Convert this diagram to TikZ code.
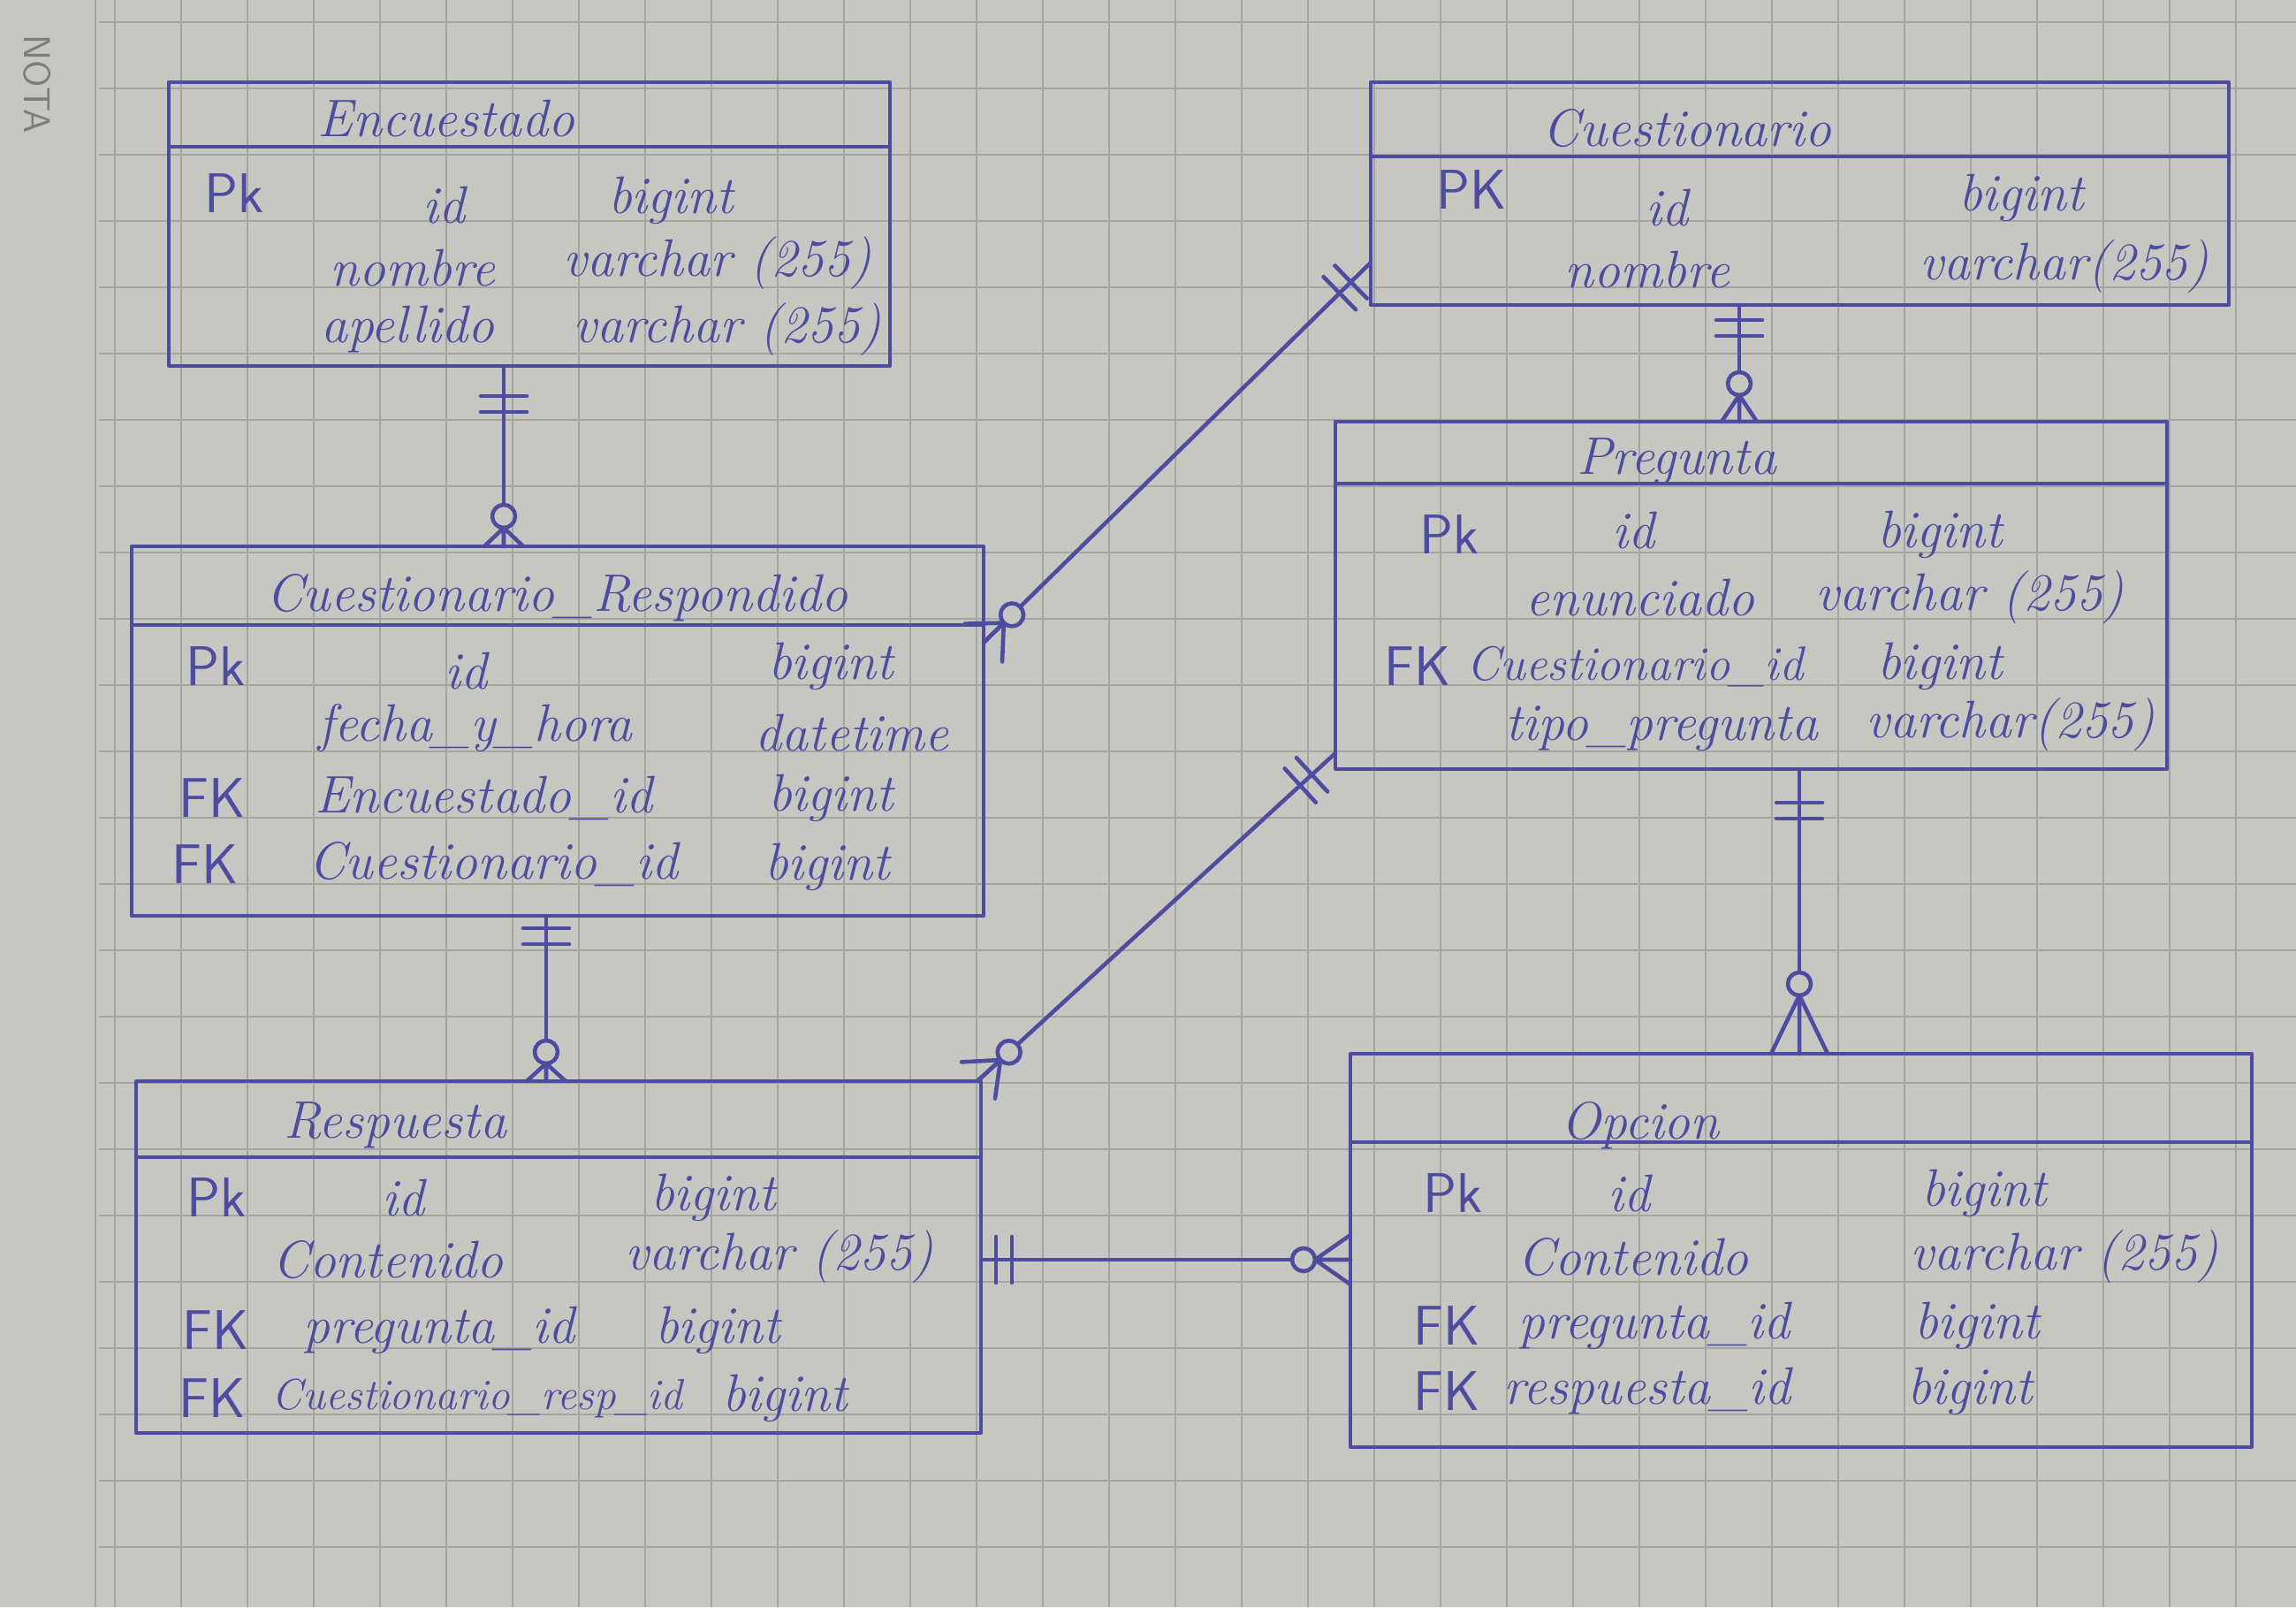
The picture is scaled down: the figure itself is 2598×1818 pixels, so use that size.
\documentclass[tikz,border=0pt]{standalone}
\usepackage{fontspec}
\usetikzlibrary{calc,fit}
\definecolor{paper}{RGB}{199,199,194}
\definecolor{gridc}{RGB}{165,165,160}
\definecolor{inkc}{RGB}{78,76,160}
\definecolor{notac}{RGB}{125,125,121}
\tikzset{
  ink/.style={draw=inkc, line width=1.3pt, line cap=round, line join=round},
  tbl/.style={ink, inner sep=0pt},
  txt/.style={text=inkc, font=\fontsize{17}{20}\selectfont\itshape, inner sep=1pt},
  smalltxt/.style={txt, font=\fontsize{14}{16}\selectfont\itshape},
  midtxt/.style={txt, font=\fontsize{15.5}{18}\selectfont\itshape},
  ttl/.style={txt},
  keyt/.style={text=inkc, font=\fontsize{18}{20}\selectfont\sffamily, inner sep=1pt},
}
\newcommand\tablebox[6]{%
  \node[tbl, draw, fit={(#2,#3) (#4,#5)}] (#1) {};
  \draw[ink] (#2,#6) -- (#4,#6);}
\newcommand\onemark[3]{%
  \draw[ink] ($(#1)+(#2:#3)+(#2+90:26)$) -- ($(#1)+(#2:#3)+(#2-90:26)$);
  \draw[ink] ($(#1)+(#2:#3+18)+(#2+90:26)$) -- ($(#1)+(#2:#3+18)+(#2-90:26)$);}
\newcommand\manymark[4]{%
  \draw[ink] ($(#1)+(#2:#3)$) -- ($(#1)+(#2+90:#4)$)
    ($(#1)+(#2:#3)$) -- (#1)
    ($(#1)+(#2:#3)$) -- ($(#1)+(#2-90:#4)$);
  \draw[ink, fill=paper] ($(#1)+(#2:#3+13)$) circle[radius=13];}
\begin{document}
\begin{tikzpicture}[x=0.01cm, y=-0.01cm]
\useasboundingbox (0,0) rectangle (2598,1818);
\fill[paper] (0,0) rectangle (2598,1818);
% grid paper
\foreach \gx in {130,205,...,2598} \draw[gridc, line width=0.6pt] (\gx,0) -- (\gx,1818);
\foreach \gy in {25,100,...,1818} \draw[gridc, line width=0.6pt] (112,\gy) -- (2598,\gy);
\draw[gridc, line width=0.7pt] (108,0) -- (108,1818);
\node[rotate=-90, text=notac, font=\sffamily\fontsize{12}{12}\selectfont] (nota) at (42,95) {NOTA};

% ---------- tables ----------
\tablebox{enc}{191}{93}{1007}{414}{166}
\tablebox{cue}{1551}{93}{2522}{345}{177}
\tablebox{cr}{149}{618}{1113}{1036}{707}
\tablebox{pre}{1511}{477}{2452}{870}{547}
\tablebox{res}{154}{1223}{1110}{1621}{1309}
\tablebox{opc}{1528}{1192}{2548}{1637}{1292}

% Encuestado
\node[ttl] (enc-t) at (505,134) {Encuestado};
\node[keyt] (enc-k1) at (265,219) {Pk};
\node[txt] (enc-n1) at (502,232) {id};
\node[txt] (enc-d1) at (759,227) {bigint};
\node[txt] (enc-n2) at (467,303) {nombre};
\node[txt] (enc-d2) at (812,298) {varchar (255)};
\node[txt] (enc-n3) at (461,373) {apellido};
\node[txt] (enc-d3) at (823,373) {varchar (255)};

% Cuestionario
\node[ttl] (cue-t) at (1909,145) {Cuestionario};
\node[keyt] (cue-k1) at (1665,215) {PK};
\node[txt] (cue-n1) at (1886,235) {id};
\node[txt] (cue-d1) at (2287,224) {bigint};
\node[txt] (cue-n2) at (1864,305) {nombre};
\node[txt] (cue-d2) at (2336,302) {varchar(255)};

% Cuestionario_Respondido
\node[ttl] (cr-t) at (630,676) {Cuestionario\_Respondido};
\node[keyt] (cr-k1) at (244,754) {Pk};
\node[txt] (cr-n1) at (527,759) {id};
\node[txt] (cr-d1) at (940,754) {bigint};
\node[txt] (cr-n2) at (538,824) {fecha\_y\_hora};
\node[txt] (cr-d2) at (964,829) {datetime};
\node[keyt] (cr-k3) at (240,903) {FK};
\node[txt] (cr-n3) at (547,903) {Encuestado\_id};
\node[txt] (cr-d3) at (940,903) {bigint};
\node[keyt] (cr-k4) at (232,978) {FK};
\node[txt] (cr-n4) at (558,978) {Cuestionario\_id};
\node[txt] (cr-d4) at (936,981) {bigint};

% Pregunta
\node[ttl] (pre-t) at (1897,522) {Pregunta};
\node[keyt] (pre-k1) at (1640,605) {Pk};
\node[txt] (pre-n1) at (1848,600) {id};
\node[txt] (pre-d1) at (2195,605) {bigint};
\node[txt] (pre-n2) at (1856,676) {enunciado};
\node[txt] (pre-d2) at (2229,676) {varchar (255)};
\node[keyt] (pre-k3) at (1604,754) {FK};
\node[midtxt] (pre-n3) at (1850,754) {Cuestionario\_id};
\node[txt] (pre-d3) at (2195,754) {bigint};
\node[txt] (pre-n4) at (1880,824) {tipo\_pregunta};
\node[txt] (pre-d4) at (2275,820) {varchar(255)};

% Respuesta
\node[ttl] (res-t) at (447,1273) {Respuesta};
\node[keyt] (res-k1) at (245,1355) {Pk};
\node[txt] (res-n1) at (456,1355) {id};
\node[txt] (res-d1) at (807,1355) {bigint};
\node[txt] (res-n2) at (439,1425) {Contenido};
\node[txt] (res-d2) at (882,1422) {varchar (255)};
\node[keyt] (res-k3) at (244,1505) {FK};
\node[txt] (res-n3) at (497,1505) {pregunta\_id};
\node[txt] (res-d3) at (812,1505) {bigint};
\node[keyt] (res-k4) at (240,1582) {FK};
\node[smalltxt] (res-n4) at (540,1582) {Cuestionario\_resp\_id};
\node[txt] (res-d4) at (888,1582) {bigint};

% Opcion
\node[ttl] (opc-t) at (1856,1273) {Opcion};
\node[keyt] (opc-k1) at (1644,1350) {Pk};
\node[txt] (opc-n1) at (1843,1350) {id};
\node[txt] (opc-d1) at (2245,1350) {bigint};
\node[txt] (opc-n2) at (1848,1422) {Contenido};
\node[txt] (opc-d2) at (2336,1422) {varchar (255)};
\node[keyt] (opc-k3) at (1637,1500) {FK};
\node[txt] (opc-n3) at (1872,1500) {pregunta\_id};
\node[txt] (opc-d3) at (2237,1500) {bigint};
\node[keyt] (opc-k4) at (1637,1574) {FK};
\node[txt] (opc-n4) at (1864,1574) {respuesta\_id};
\node[txt] (opc-d4) at (2229,1574) {bigint};

% ---------- relationships ----------
% Encuestado -> Cuestionario_Respondido
\coordinate (r1a) at (570,414); \coordinate (r1b) at (570,618);
\draw[ink] (r1a) -- (r1b);
\onemark{r1a}{90}{34}
\manymark{r1b}{-90}{21}{22}
% Cuestionario -> Cuestionario_Respondido
\coordinate (r2a) at (1550,298); \coordinate (r2b) at (1113,727);
\draw[ink] (r2a) -- (r2b);
\onemark{r2a}{135.5}{30}
\manymark{r2b}{-44.5}{32}{30}
% Cuestionario -> Pregunta
\coordinate (r3a) at (1968,345); \coordinate (r3b) at (1968,477);
\draw[ink] (r3a) -- (r3b);
\onemark{r3a}{90}{17}
\manymark{r3b}{-90}{30}{20}
% Pregunta -> Respuesta
\coordinate (r4a) at (1511,852); \coordinate (r4b) at (1107,1222);
\draw[ink] (r4a) -- (r4b);
\onemark{r4a}{137.5}{36}
\manymark{r4b}{-42.5}{34}{28}
% Cuestionario_Respondido -> Respuesta
\coordinate (r5a) at (618,1036); \coordinate (r5b) at (618,1223);
\draw[ink] (r5a) -- (r5b);
\onemark{r5a}{90}{14}
\manymark{r5b}{-90}{20}{22}
% Pregunta -> Opcion
\coordinate (r6a) at (2036,870); \coordinate (r6b) at (2036,1192);
\draw[ink] (r6a) -- (r6b);
\onemark{r6a}{90}{38}
\manymark{r6b}{-90}{66}{32}
% Respuesta -> Opcion
\coordinate (r7a) at (1110,1425); \coordinate (r7b) at (1528,1425);
\draw[ink] (r7a) -- (r7b);
\onemark{r7a}{0}{17}
\manymark{r7b}{180}{40}{28}
\end{tikzpicture}
\end{document}
